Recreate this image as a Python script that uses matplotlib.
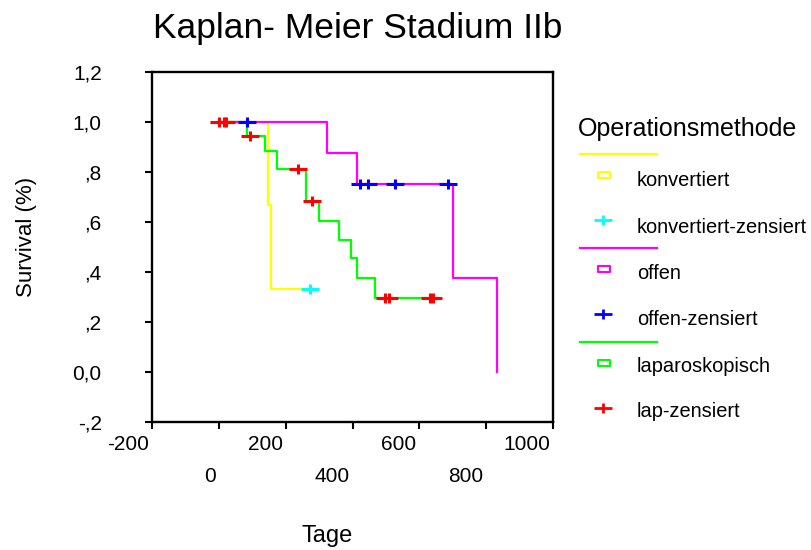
import matplotlib
matplotlib.use("Agg")
import matplotlib.pyplot as plt
from matplotlib.path import Path
from matplotlib.lines import Line2D
from matplotlib.transforms import ScaledTranslation

plt.rcParams['font.family'] = ['Liberation Sans', 'DejaVu Sans']

# Kaplan-Meier step curves (days, survival)
konv_t = [0, 147, 157, 272]
konv_s = [1.0, 0.667, 0.333, 0.333]
konv_cens_t = [272]
konv_cens_s = [0.333]

offen_t = [0, 325, 413, 701, 833]
offen_s = [1.0, 0.875, 0.75, 0.375, 0.0]
offen_cens_t = [86, 421, 446, 526, 685]
offen_cens_s = [1.0, 0.75, 0.75, 0.75, 0.75]

lap_t = [0, 86, 138, 174, 262, 299, 360, 395, 413, 467, 640]
lap_s = [1.0, 0.944, 0.882, 0.813, 0.683, 0.602, 0.527, 0.456, 0.378, 0.298, 0.298]
lap_cens_t = [0, 16, 21, 93, 237, 279, 497, 509, 633, 640]
lap_cens_s = [1.0, 1.0, 1.0, 0.944, 0.813, 0.683, 0.298, 0.298, 0.298, 0.298]

x_ticks = [-200, 0, 200, 400, 600, 800, 1000]
x_labels = ['-200', '0', '200', '400', '600', '800', '1000']
y_ticks = [-0.2, 0.0, 0.2, 0.4, 0.6, 0.8, 1.0, 1.2]
y_labels = ['-,2', '0,0', ',2', ',4', ',6', ',8', '1,0', '1,2']

legend_title = 'Operationsmethode'
legend_labels = ['konvertiert', 'konvertiert-zensiert', 'offen',
                 'offen-zensiert', 'laparoskopisch', 'lap-zensiert']

W, H = 812, 550


def fx(x):
    return x / W


def fy(y):
    return 1 - y / H


# censor cross: wide horizontal arm, short vertical arm
cross = Path([(-1, 0), (1, 0), (0, -0.6), (0, 0.6)],
             [Path.MOVETO, Path.LINETO, Path.MOVETO, Path.LINETO])
rect = Path([(-1, -0.5), (1, -0.5), (1, 0.5), (-1, 0.5), (-1, -0.5)],
            [Path.MOVETO, Path.LINETO, Path.LINETO, Path.LINETO, Path.CLOSEPOLY])

fig = plt.figure(figsize=(W / 100, H / 100), dpi=100)
ax = fig.add_axes([fx(151.7), fy(422.3), 401.6 / W, 350.6 / H])

ax.step(konv_t, konv_s, where='post', color='#ffff00', lw=1.6)
ax.step(lap_t, lap_s, where='post', color='#00ff00', lw=1.6)
ax.step(offen_t, offen_s, where='post', color='#ff00ff', lw=1.6)

ax.plot(konv_cens_t, konv_cens_s, ls='none', marker=cross, ms=13, mew=2.2,
        color='#00ffff')
ax.plot(offen_cens_t, offen_cens_s, ls='none', marker=cross, ms=13, mew=2.2,
        color='#0000ff')
ax.plot(lap_cens_t, lap_cens_s, ls='none', marker=cross, ms=13, mew=2.2,
        color='#ff0000')

ax.set_xlim(-200, 1000)
ax.set_ylim(-0.2, 1.2)
ax.set_xticks(x_ticks, x_labels)
ax.set_yticks(y_ticks, y_labels)
ax.tick_params(direction='out', length=5, width=1.5, labelsize=15)
ax.tick_params(axis='y', pad=31)
for sp in ax.spines.values():
    sp.set_linewidth(1.7)

# staggered x labels, right-aligned to the tick
for i, t in enumerate(ax.xaxis.get_major_ticks()):
    t.set_pad(4 if i % 2 == 0 else 27.5)
for lbl in ax.get_xticklabels():
    lbl.set_ha('right')
    lbl.set_transform(lbl.get_transform()
                      + ScaledTranslation(-0.03, 0, fig.dpi_scale_trans))

fig.text(fx(357.5), fy(38.3), 'Kaplan- Meier Stadium IIb', ha='center',
         va='baseline', fontsize=25.5)
fig.text(fx(327.5), fy(541.7), 'Tage', ha='center', va='baseline', fontsize=17)
fig.text(fx(31.7), fy(236.7), 'Survival (%)', ha='center', va='baseline',
         rotation=90, rotation_mode='anchor', fontsize=16)

# legend, drawn by hand in figure pixels
fig.text(fx(578), fy(136), legend_title, ha='left', va='baseline', fontsize=18)
colors = [('#ffff00', '#00ffff'), ('#ff00ff', '#0000ff'), ('#00ff00', '#ff0000')]
line_y = [154, 248, 342]
text_y = [186, 232.7, 279, 325, 371.7, 417.3]
for g, (c_line, c_cens) in enumerate(colors):
    y0 = line_y[g]
    fig.add_artist(Line2D([fx(580), fx(657)], [fy(y0), fy(y0)], color=c_line,
                          lw=1.6, transform=fig.transFigure))
    fig.add_artist(Line2D([fx(604)], [fy(y0 + 21)], ls='none', marker=rect,
                          ms=9, mew=1.5, mfc='none', mec=c_line,
                          transform=fig.transFigure))
    fig.add_artist(Line2D([fx(603)], [fy(y0 + 66)], ls='none', marker=cross,
                          ms=13, mew=2.0, color=c_cens,
                          transform=fig.transFigure))
    fig.text(fx(637), fy(text_y[2 * g]), legend_labels[2 * g], ha='left',
             va='baseline', fontsize=14.4)
    fig.text(fx(637), fy(text_y[2 * g + 1]), legend_labels[2 * g + 1], ha='left',
             va='baseline', fontsize=14.4)

fig.savefig('out.png', dpi=100)
